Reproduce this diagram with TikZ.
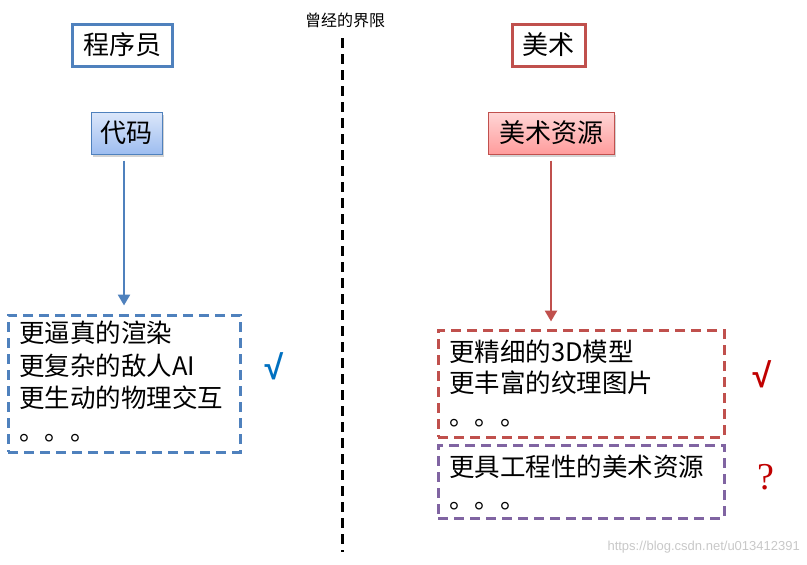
\documentclass[tikz,border=0pt]{standalone}
\usepackage{fontspec}
\setmainfont{Noto Sans CJK SC}
\newfontfamily\serifq{Liberation Serif}
\newfontfamily\urlfont{Liberation Sans}
\usetikzlibrary{arrows.meta,shadows}

\definecolor{progblue}{HTML}{4F81BD}
\definecolor{artred}{HTML}{C0504D}
\definecolor{artpurple}{HTML}{8064A2}
\definecolor{tickblue}{HTML}{0070C0}
\definecolor{tickred}{HTML}{C00000}

\tikzset{
  rolebox/.style={draw, line width=3pt, inner sep=0pt, minimum height=42pt,
    font=\fontsize{26}{30}\selectfont},
  itembox/.style={draw, line width=1pt, inner sep=0pt, minimum height=42pt,
    font=\fontsize{26}{30}\selectfont,
    drop shadow={opacity=0.35, shadow xshift=2pt, shadow yshift=-3pt}},
  groupbox/.style={draw, line width=3pt, dash pattern=on 10pt off 6pt, inner sep=0pt},
  itemline/.style={anchor=base west, inner sep=0pt, font=\fontsize{25.5}{30}\selectfont},
  flow/.style={line width=2.6pt, -{Triangle[width=12pt,length=11pt]}},
  verdict/.style={inner sep=0pt, font=\urlfont\bfseries\fontsize{34}{34}\selectfont}
}

\begin{document}
\begin{tikzpicture}[x=1pt,y=-1pt]
\useasboundingbox (0,0) rectangle (807,565);

% headings
\node[rolebox, draw=progblue, minimum width=100pt] (prog) at (122,45) {程序员};
\node[rolebox, draw=artred, minimum width=73pt] (art) at (548.5,45) {美术};

% the old boundary
\node[inner sep=0pt, font=\fontsize{16}{18}\selectfont] (limit) at (345,20) {曾经的界限};
\coordinate (ltop) at (342,38);
\coordinate (lbot) at (342,552);
\draw[line width=3pt, dash pattern=on 10pt off 6pt] (ltop) -- (lbot);

% outputs of each side
\node[itembox, draw=progblue, top color={rgb,255:red,220;green,231;blue,250},
      bottom color={rgb,255:red,157;green,189;blue,240}, minimum width=71pt] (code) at (126.5,133) {代码};
\node[itembox, draw=artred, top color={rgb,255:red,255;green,214;blue,214},
      bottom color={rgb,255:red,255;green,156;blue,156}, minimum width=126pt] (res) at (551,133) {美术资源};

% programmer improvements
\node[groupbox, draw=progblue, minimum width=232pt, minimum height=137pt] (lbox) at (124,383.5) {};
\node[itemline] (l1) at (19,342) {更逼真的渲染};
\node[itemline] (l2) at (19,375) {更复杂的敌人AI};
\node[itemline] (l3) at (19,407) {更生动的物理交互};
\node[itemline] (l4) at (19,440) {。。。};

% art improvements
\node[groupbox, draw=artred, minimum width=286pt, minimum height=107pt] (rbox) at (581,383.5) {};
\node[itemline] (r1) at (449,361) {更精细的3D模型};
\node[itemline] (r2) at (449,392) {更丰富的纹理图片};
\node[itemline] (r3) at (449,425) {。。。};

\node[groupbox, draw=artpurple, minimum width=286pt, minimum height=73pt] (pbox) at (581,481.5) {};
\node[itemline] (p1) at (449,476) {更具工程性的美术资源};
\node[itemline] (p2) at (449,508) {。。。};

% flows
\draw[flow, draw=progblue, shorten <=6pt, shorten >=8pt] (lbox.north |- code.south) -- (lbox.north);
\draw[flow, draw=artred, shorten <=6pt, shorten >=7pt] (res.south) -- (res.south |- rbox.north);

% verdicts
\node[verdict, text=tickblue] (tick1) at (274,366) {√};
\node[verdict, text=tickred] (tick2) at (762,374) {√};
\node[verdict, text=tickred, font=\serifq\fontsize{38}{38}\selectfont] (ask) at (766,477) {?};

% source
\node[inner sep=0pt, anchor=east, text={rgb,255:red,200;green,200;blue,200},
      font=\urlfont\fontsize{13}{15}\selectfont] (src) at (800,547) {https://blog.csdn.net/u013412391};
\end{tikzpicture}
\end{document}
